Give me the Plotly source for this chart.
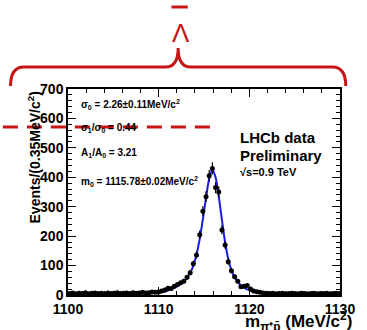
import numpy as np
import plotly.graph_objects as go

# ---- data ----
bin_width = 0.35
x_start = 1100.175
counts = [
    5, 7, 4, 6, 5, 8, 4, 6, 7, 5,
    6, 4, 7, 5, 6, 8, 5, 6, 7, 5,
    8, 6, 7, 9, 7, 8, 10, 9, 10, 14,
    17, 23, 22, 30, 36, 42, 47, 60, 76, 106,
    136, 205, 285, 334, 405, 430, 365, 350, 221, 170,
    113, 82, 62, 47, 28, 30, 32, 20, 14, 11,
    9, 7, 6, 5, 6, 4, 5, 6, 4, 5,
    6, 5, 4, 6, 5, 4, 5, 6, 4, 5,
    5, 6, 4, 5, 6, 5,
]
fit_values = [
    5, 5, 5, 5, 5, 5, 5, 5, 5, 5,
    5, 5, 5, 5, 5, 5, 5, 5, 5, 5,
    5, 5, 5, 5, 5, 5, 6, 7, 8, 10,
    12, 15, 19, 24, 30, 37, 46, 58, 75, 100,
    138, 190, 258, 330, 395, 425, 400, 335, 255, 180,
    122, 84, 60, 44, 33, 25, 19, 15, 12, 10,
    8, 7, 6, 5, 5, 5, 5, 5, 5, 5,
    5, 5, 5, 5, 5, 5, 5, 5, 5, 5,
    5, 5, 5, 5, 5, 5,
]
centers = [x_start + bin_width * i for i in range(len(counts))]
errors = [float(np.sqrt(c)) for c in counts]

x_ticks = [1100, 1110, 1120, 1130]
y_ticks = [0, 100, 200, 300, 400, 500, 600, 700]

RED = "#c81414"
FONT = "Liberation Sans, Arial, sans-serif"

# plot area in pixels
L, R, T, B = 68, 15, 89, 35
W, H = 367, 330
PW, PH = W - L - R, H - T - B


def px(x):
    return (x - L) / PW


def py(y):
    return (H - B - y) / PH


fig = go.Figure()
fig.add_trace(go.Scatter(
    x=centers, y=fit_values, mode="lines", line=dict(color="#1a1ae6", width=2, shape="spline"),
    hoverinfo="skip", showlegend=False))
fig.add_trace(go.Scatter(
    x=centers, y=counts, mode="markers",
    marker=dict(color="black", size=5),
    error_y=dict(type="data", array=errors, color="black", thickness=1.2, width=0),
    error_x=dict(type="constant", value=bin_width / 2, color="black", thickness=1.5, width=0),
    showlegend=False))

axis_common = dict(
    showline=True, linecolor="black", linewidth=1.5, mirror="allticks",
    ticks="inside", ticklen=8, tickwidth=1, tickcolor="black",
    showgrid=False, zeroline=False,
    tickfont=dict(family=FONT, size=14, color="black", weight="bold"),
)
fig.update_xaxes(range=[1100, 1130], tickvals=x_ticks, ticktext=[str(v) for v in x_ticks],
                 ticklabeloverflow="allow",
                 minor=dict(dtick=2, ticks="inside", ticklen=4, tickcolor="black", showgrid=False),
                 **axis_common)
fig.update_yaxes(range=[0, 700], tickvals=y_ticks, ticktext=[str(v) for v in y_ticks],
                 minor=dict(dtick=20, ticks="inside", ticklen=4, tickcolor="black", showgrid=False),
                 **axis_common)

ann = []


def text(x, y, s, size, anchor="left", bold=True, color="black"):
    ann.append(dict(x=px(x), y=py(y), xref="paper", yref="paper", text=s, showarrow=False,
                    xanchor=anchor, yanchor="middle",
                    font=dict(family=FONT, size=size, color=color, weight="bold" if bold else "normal")))


text(80, 104, "σ<sub>0</sub> = 2.26±0.11MeV/c<sup>2</sup>", 10)
text(80, 128, "σ<sub>1</sub>/σ<sub>0</sub> = 0.44", 10)
text(80, 153, "A<sub>1</sub>/A<sub>0</sub> = 3.21", 10)
text(80, 181, "m<sub>0</sub> = 1115.78±0.02MeV/c<sup>2</sup>", 10)
text(246, 137, "LHCb data", 15)
text(246, 155, "Preliminary", 15)
text(246, 172, "√s=0.9 TeV", 11)
text(367, 321, "m<sub>π⁺p̄</sub> (MeV/c<sup>2</sup>)", 17, anchor="right")
text(186, 33, "Λ", 26, anchor="center", bold=False, color=RED)
ann.append(dict(x=px(33), y=py(157), xref="paper", yref="paper", text="Events/(0.35MeV/c<sup>2</sup>)",
                showarrow=False, textangle=-90, xanchor="center", yanchor="middle",
                font=dict(family=FONT, size=14, color="black", weight="bold")))

shapes = []
# overbar of the Lambda
shapes.append(dict(type="line", xref="paper", yref="paper", x0=px(176), x1=px(193), y0=py(7), y1=py(7),
                   line=dict(color=RED, width=3)))
# curly brace
path = (f"M {px(8)},{py(86)} Q {px(8)},{py(67)} {px(22)},{py(67)} L {px(170)},{py(67)} "
        f"Q {px(183)},{py(67)} {px(183)},{py(48)} Q {px(183)},{py(67)} {px(196)},{py(67)} "
        f"L {px(344)},{py(67)} Q {px(358)},{py(67)} {px(358)},{py(86)}")
shapes.append(dict(type="path", xref="paper", yref="paper", path=path, line=dict(color=RED, width=3)))
# dashed line
shapes.append(dict(type="line", xref="paper", yref="paper", x0=px(0), x1=px(224), y0=py(127), y1=py(127),
                   line=dict(color=RED, width=3, dash="15px,9px")))

fig.update_layout(
    width=W, height=H, margin=dict(l=L, r=R, t=T, b=B),
    paper_bgcolor="white", plot_bgcolor="white",
    annotations=ann, shapes=shapes, showlegend=False,
)
fig.write_html("out.html", config={"displayModeBar": False},
               post_script="document.body.style.margin='0';document.body.style.overflow='hidden';")
